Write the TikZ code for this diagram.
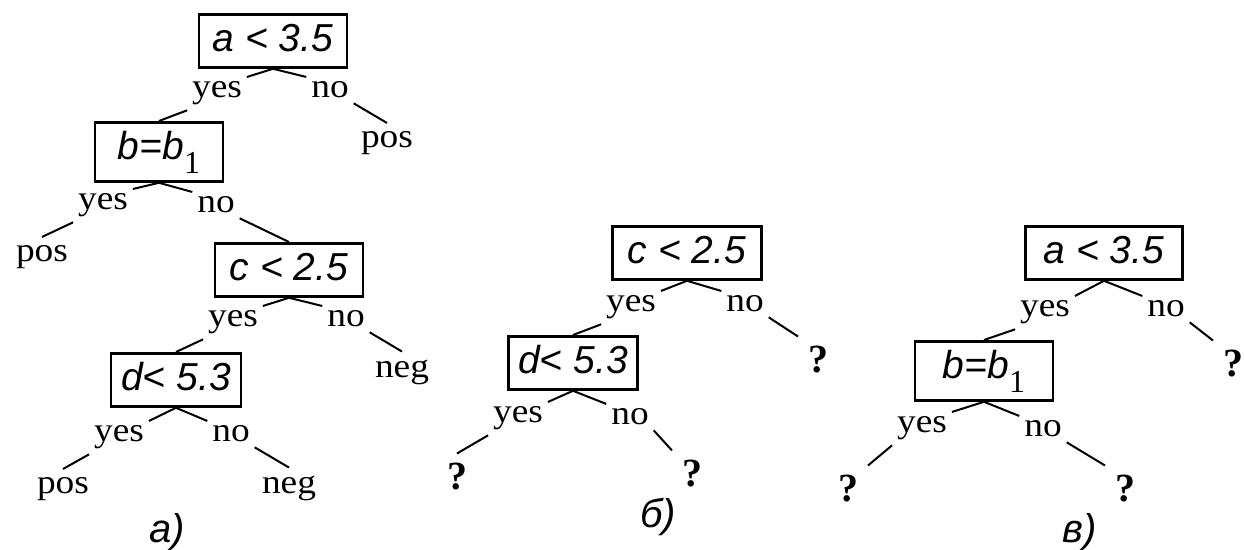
\documentclass[tikz,border=0pt]{standalone}
\usepackage{fontspec}
\setmainfont{Liberation Serif}
\newfontfamily\yesnofont{Liberation Serif}[FakeStretch=1.1]
\newfontfamily\testfont{Liberation Sans}
\newcommand{\lowidx}[1]{\raisebox{-7pt}{\normalfont\fontsize{16}{16}\selectfont #1}}

\begin{document}
\begin{tikzpicture}[x=0.5pt,y=-0.5pt,line width=1pt,
  test/.style={draw,line width=1.4pt,anchor=north,
    font=\testfont\itshape\fontsize{19.5}{20}\selectfont,
    text height=15.5pt,text depth=5pt,inner xsep=4pt,inner ysep=3pt},
  subtest/.style={test,text depth=8pt},
  ans/.style={font=\yesnofont\fontsize{17}{20}\selectfont,anchor=base,inner sep=2pt},
  leaf/.style={ans,inner sep=4pt},
  qleaf/.style={font=\bfseries\fontsize{20}{22}\selectfont,anchor=base,inner sep=4.5pt},
  treelabel/.style={font=\testfont\itshape\fontsize{20}{22}\selectfont,anchor=base}]
  \useasboundingbox (0,0) rectangle (1244,550);

  % tree a): the full tree
  \node[test,minimum width=74pt] (A1) at (273,13) {a < 3.5};
  \node[ans] (A1y) at (217,98) {yes};
  \node[ans] (A1n) at (330,98) {no};
  \node[leaf] (A1p) at (387,148) {pos};
  \node[subtest,minimum width=64pt] (A2) at (159,121) {b=b\lowidx{1}};
  \node[ans] (A2y) at (103,210) {yes};
  \node[ans] (A2n) at (216,213) {no};
  \node[leaf] (A2p) at (42,262) {pos};
  \node[test,minimum width=74pt] (A3) at (289,242) {c < 2.5};
  \node[ans] (A3y) at (233,327) {yes};
  \node[ans] (A3n) at (346,327) {no};
  \node[leaf] (A3g) at (402,378) {neg};
  \node[test,minimum width=65pt] (A4) at (176,352) {d< 5.3};
  \node[ans] (A4y) at (119,442) {yes};
  \node[ans] (A4n) at (231,442) {no};
  \node[leaf] (A4p) at (63,494) {pos};
  \node[leaf] (A4g) at (289,494) {neg};
  \node[treelabel] (labA) at (167,543) {а)};

  \draw (A1.south) -- (A1y.north east) (A1y.south west) -- (A2.north);
  \draw (A1.south) -- (A1n.north west) (A1n.south east) -- (A1p.north);
  \draw (A2.south) -- (A2y.north east) (A2y.south west) -- (A2p.north);
  \draw (A2.south) -- (A2n.north west) (A2n.south east) -- (A3.north);
  \draw (A3.south) -- (A3y.north east) (A3y.south west) -- (A4.north);
  \draw (A3.south) -- (A3n.north west) (A3n.south east) -- (A3g.north);
  \draw (A4.south) -- (A4y.north east) (A4y.south west) -- (A4p.north);
  \draw (A4.south) -- (A4n.north west) (A4n.south east) -- (A4g.north);

  % tree b)
  \node[test,minimum width=74.5pt] (B1) at (687,225) {c < 2.5};
  \node[ans] (B1y) at (631,312) {yes};
  \node[ans] (B1n) at (745,312) {no};
  \node[qleaf] (B1q) at (818,373) {?};
  \node[test,minimum width=64.5pt] (B2) at (573,335) {d< 5.3};
  \node[ans] (B2y) at (518,423) {yes};
  \node[ans] (B2n) at (630,425) {no};
  \node[qleaf] (B2q1) at (457,490) {?};
  \node[qleaf] (B2q2) at (692,487) {?};
  \node[treelabel] (labB) at (658,528) {б)};

  \draw (B1.south) -- (B1y.north east) (B1y.south west) -- (B2.north);
  \draw (B1.south) -- (B1n.north west) (B1n.south east) -- (B1q.north west);
  \draw (B2.south) -- (B2y.north east) (B2y.south west) -- (B2q1.north);
  \draw (B2.south) -- (B2n.north west) (B2n.south east) -- (B2q2.north west);

  % tree c)
  \node[test,minimum width=78.5pt] (C1) at (1104,225) {a < 3.5};
  \node[ans] (C1y) at (1045,317) {yes};
  \node[ans] (C1n) at (1166,317) {no};
  \node[qleaf] (C1q) at (1233,377) {?};
  \node[subtest,minimum width=69pt] (C2) at (984,340) {b=b\lowidx{1}};
  \node[ans] (C2y) at (922,433) {yes};
  \node[ans] (C2n) at (1043,437) {no};
  \node[qleaf] (C2q1) at (848,502) {?};
  \node[qleaf] (C2q2) at (1125,502) {?};
  \node[treelabel] (labC) at (1080,543) {в)};

  \draw (C1.south) -- (C1y.north east) (C1y.south west) -- (C2.north);
  \draw (C1.south) -- (C1n.north west) (C1n.south east) -- (C1q.north west);
  \draw (C2.south) -- (C2y.north east) (C2y.south west) -- (C2q1.north east);
  \draw (C2.south) -- (C2n.north west) (C2n.south east) -- (C2q2.north west);
\end{tikzpicture}
\end{document}
